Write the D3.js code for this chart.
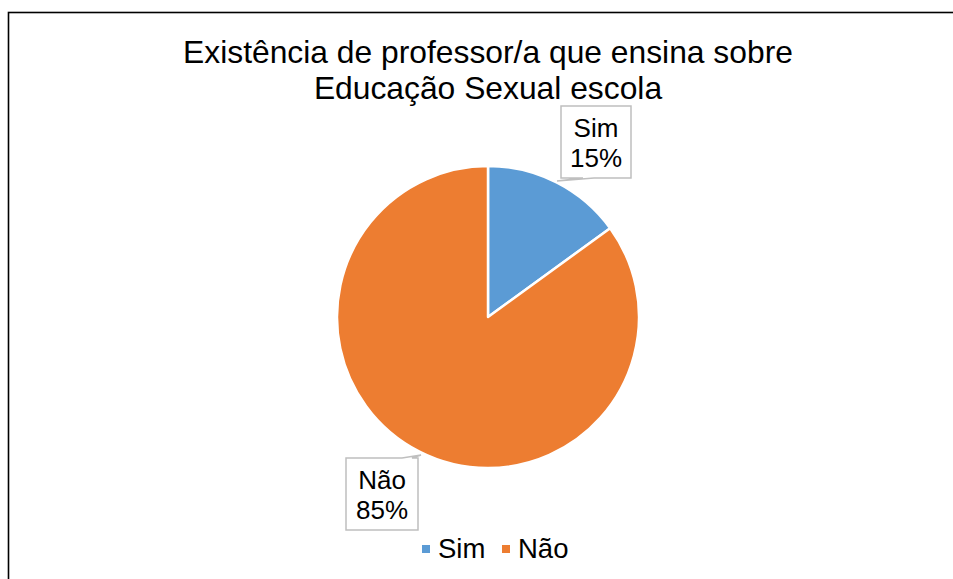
<!DOCTYPE html>
<html>
<head>
<meta charset="utf-8">
<script src="https://cdn.jsdelivr.net/npm/d3@7"></script>
<style>
  body { margin: 0; background: #fff; }
  svg { display: block; font-family: "Liberation Sans", Arial, sans-serif; }
</style>
</head>
<body>
<div id="chart"></div>
<script>
// data
var categories = ["Sim", "Não"];
var values = [15, 85];
var colors = ["#5B9BD5", "#ED7D31"];
var titleLines = ["Existência de professor/a que ensina sobre", "Educação Sexual escola"];

var width = 953, height = 579;
var cx = 488, cy = 317, radius = 151;

var svg = d3.select("#chart").append("svg")
  .attr("width", width)
  .attr("height", height);

// chart frame (runs off the right and bottom edge)
svg.append("rect")
  .attr("x", 8.5).attr("y", 12.5)
  .attr("width", 1000).attr("height", 600)
  .attr("fill", "#fff")
  .attr("stroke", "#000")
  .attr("stroke-width", 1.6);

// title
svg.append("text")
  .attr("x", cx).attr("y", 63)
  .attr("text-anchor", "middle")
  .style("font-size", "31.8px")
  .attr("fill", "#000")
  .selectAll("tspan")
  .data(titleLines)
  .enter().append("tspan")
    .attr("x", cx)
    .attr("dy", function(d, i) { return i == 0 ? 0 : 36; })
    .text(function(d) { return d; });

var data = categories.map(function(c, i) { return {key: c, value: values[i], color: colors[i]}; });

var pie = d3.pie().sort(null).value(function(d) { return d.value; });
var arc = d3.arc().innerRadius(0).outerRadius(radius);
var arcs = pie(data);

var g = svg.append("g").attr("transform", "translate(" + cx + "," + cy + ")");
g.selectAll("path.slice")
  .data(arcs)
  .enter().append("path")
    .attr("class", "slice")
    .attr("d", arc)
    .attr("fill", function(d) { return d.data.color; })
    .attr("stroke", "#fff")
    .attr("stroke-width", 2.5)
    .attr("stroke-linejoin", "round");

// data label callouts: box relative to pie centre, tail tip near the rim
var callouts = [
  {box: [73, -211, 70, 72], tip: [69, -136]},
  {box: [-142, 141, 72, 72], tip: [-67, 138]}
];

var fmt = d3.format(".0%");
var total = d3.sum(values);

callouts.forEach(function(c, i) {
  var x = c.box[0], y = c.box[1], w = c.box[2], h = c.box[3];
  var tip = c.tip;
  var p;
  if (i == 0) {
    // tail leaves the bottom edge
    p = "M" + x + "," + y + "L" + (x + w) + "," + y + "L" + (x + w) + "," + (y + h) +
        "L" + (x + 33) + "," + (y + h) + "L" + tip[0] + "," + tip[1] +
        "L" + (x + 22) + "," + (y + h) + "L" + x + "," + (y + h) + "Z";
  } else {
    // tail leaves the top edge
    p = "M" + x + "," + y + "L" + (x + 56) + "," + y + "L" + tip[0] + "," + tip[1] +
        "L" + (x + 66) + "," + y + "L" + (x + w) + "," + y +
        "L" + (x + w) + "," + (y + h) + "L" + x + "," + (y + h) + "Z";
  }
  var cg = g.append("g");
  cg.append("path")
    .attr("d", p)
    .attr("fill", "#fff")
    .attr("stroke", "#BFBFBF")
    .attr("stroke-width", 1.5);
  var t = cg.append("text")
    .attr("text-anchor", "middle")
    .style("font-size", "26px")
    .attr("fill", "#000");
  t.append("tspan").attr("x", x + w / 2).attr("y", y + 31).text(arcs[i].data.key);
  t.append("tspan").attr("x", x + w / 2).attr("y", y + 61).text(fmt(arcs[i].data.value / total));
});

// legend
var legendX = [422, 502];
var legend = svg.selectAll("g.legend")
  .data(data)
  .enter().append("g")
    .attr("class", "legend")
    .attr("transform", function(d, i) { return "translate(" + legendX[i] + ",545)"; });
legend.append("rect")
  .attr("width", 8).attr("height", 8)
  .attr("fill", function(d) { return d.color; });
legend.append("text")
  .attr("x", 16).attr("y", 13)
  .style("font-size", "27.5px")
  .attr("fill", "#000")
  .text(function(d) { return d.key; });
</script>
</body>
</html>
